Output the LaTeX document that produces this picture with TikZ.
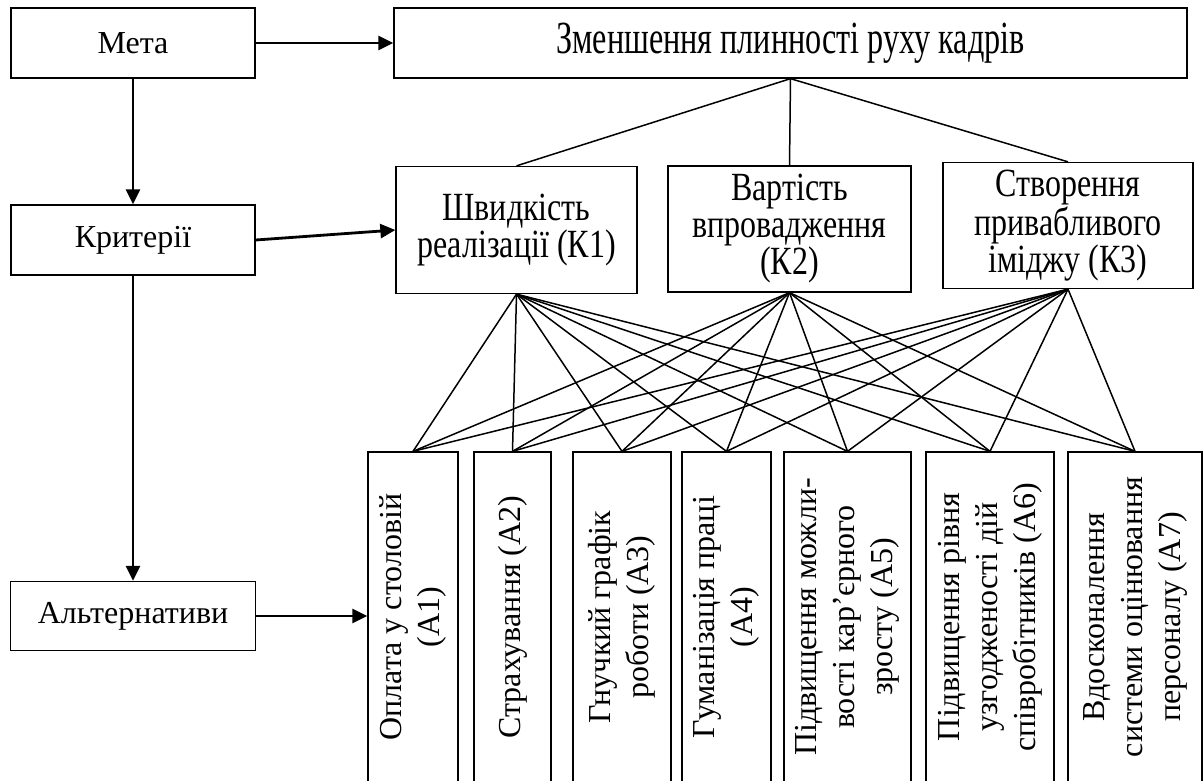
\documentclass[tikz,border=0pt]{standalone}
\usepackage{fontspec}
\setmainfont{Liberation Serif}
\newfontfamily\goalfont[FakeStretch=0.7]{Liberation Serif}
\newfontfamily\critfont[FakeStretch=0.8]{Liberation Serif}
\usetikzlibrary{arrows.meta, positioning}

\tikzset{
    box/.style={draw, line width=1.3pt, align=center, inner sep=2pt},
    critbox/.style={box, font=\critfont\fontsize{40}{37}\selectfont},
    altbox/.style={box, rotate=90, minimum width=330pt},
    link/.style={line width=1.5pt},
    flow/.style={line width=2.8pt, -{Triangle[length=15pt, width=14pt]}}
}

\begin{document}
\begin{tikzpicture}[x=1pt, y=-1pt, font=\fontsize{32}{38}\selectfont]
    \useasboundingbox (0,0) rectangle (1204,780);
    \clip (0,0) rectangle (1204,780);
    % Left column: levels of the hierarchy
    \node[box, minimum width=244pt, minimum height=70pt] (meta) at (133,43) {Мета};
    \node[box, minimum width=244pt, minimum height=70pt] (crit) at (133,240) {Критерії};
    \node[box, minimum width=245pt, minimum height=69pt] (alt) at (133,616) {Альтернативи};
    % Goal
    \node[box, minimum width=793pt, minimum height=70pt,
          font=\goalfont\fontsize{46}{46}\selectfont] (goal) at (790.5,43)
        {Зменшення плинності руху кадрів};
    % Criteria
    \node[critbox, minimum width=241pt, minimum height=127pt] (k1) at (516.5,230)
        {Швидкість\\реалізації (К1)};
    \node[critbox, minimum width=243pt, minimum height=126pt] (k2) at (789.5,229)
        {Вартість\\впровадження\\(К2)};
    \node[critbox, minimum width=250pt, minimum height=126pt] (k3) at (1068,225.5)
        {Створення\\привабливого\\іміджу (К3)};
    % Alternatives (rotated: east = top, north = left)
    \foreach \i/\cx/\w/\txt in {
        1/413/90/{Оплата у столовій\\(А1)},
        2/512.5/77/{Страхування (А2)},
        3/622/98/{Гнучкий графік\\роботи (А3)},
        4/726.5/89/{Гуманізація праці\\(А4)},
        5/847.5/127/{Підвищення можли-\\вості кар’єрного\\зросту (А5)},
        6/990/128/{Підвищення рівня\\узгодженості дій\\співробітників (А6)},
        7/1135/134/{Вдосконалення\\системи оцінювання\\персоналу (А7)}} {
        \node[altbox, minimum height=\w pt] (a\i) at (\cx,617) {\txt};
    }
    % Arrows between levels
    \draw[flow] (meta.east) -- (goal.west);
    \draw[flow] (crit.east) -- (k1.west);
    \draw[flow] (alt.east) -- (alt.east -| a1.north);
    \draw[flow] (meta.south) -- (crit.north);
    \draw[flow] (crit.south) -- (alt.north);
    % Goal to criteria
    \foreach \k in {k1,k2,k3} {
        \draw[link] (goal.south) -- (\k.north);
    }
    % Criteria to alternatives
    \foreach \k in {k1,k2,k3} {
        \foreach \i in {1,...,7} {
            \draw[link] (\k.south) -- (a\i.east);
        }
    }
\end{tikzpicture}
\end{document}
